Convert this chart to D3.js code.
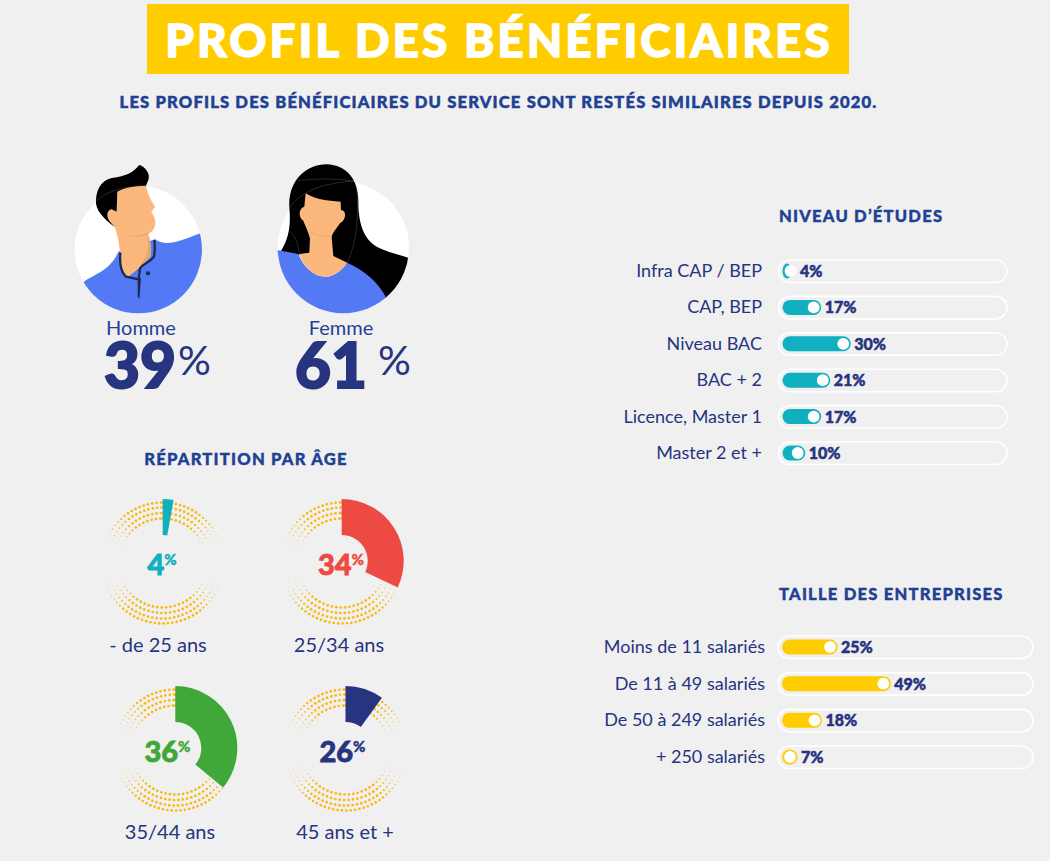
<!DOCTYPE html>
<html lang="fr">
<head>
<meta charset="utf-8">
<script src="https://cdnjs.cloudflare.com/ajax/libs/d3/7.8.5/d3.min.js"></script>
<style>
  html, body { margin: 0; padding: 0; background: #f0f0f0; }
  svg { display: block; }
  text { font-family: Lato, "Open Sans", sans-serif; }
</style>
</head>
<body>
<div id="chart"></div>
<script>
// values
let genreLabels = ['Homme', 'Femme'];
let genreValues = [39, 61];

let ageLabels = ['- de 25 ans', '25/34 ans', '35/44 ans', '45 ans et +'];
let ageValues = [4, 34, 36, 26];
// the wedges in the picture do not follow the printed numbers, so they get their own list
let ageWedges = [2.8, 32, 36, 10];
let ageColors = ['#11b0c0', '#ec4a43', '#40a838', '#27347f'];

let etudesLabels = ['Infra CAP / BEP', 'CAP, BEP', 'Niveau BAC', 'BAC + 2', 'Licence, Master 1', 'Master 2 et +'];
let etudesValues = [4, 17, 30, 21, 17, 10];

let tailleLabels = ['Moins de 11 salariés', 'De 11 à 49 salariés', 'De 50 à 249 salariés', '+ 250 salariés'];
let tailleValues = [25, 49, 18, 7];

const navy = '#27347f';
const blue = '#1f4193';
const yellow = '#ffcc00';
const teal = '#11b0c0';
const skin = '#fcb77c';
const shirt = '#5379f5';

let svg = d3.select('#chart').append('svg')
    .attr('width', 1050)
    .attr('height', 861);

svg.append('rect').attr('width', 1050).attr('height', 861).attr('fill', '#f0f0f0');

// title block
svg.append('rect')
    .attr('x', 147).attr('y', 4)
    .attr('width', 702).attr('height', 70)
    .attr('fill', yellow);

svg.append('text')
    .attr('x', 499).attr('y', 57)
    .attr('text-anchor', 'middle')
    .attr('font-size', 46)
    .attr('font-weight', 900)
    .attr('letter-spacing', 2.9)
    .attr('fill', '#fff')
    .attr('stroke', '#fff')
    .attr('stroke-width', 1.3)
    .text('PROFIL DES BÉNÉFICIAIRES');

svg.append('text')
    .attr('x', 498.5).attr('y', 108)
    .attr('text-anchor', 'middle')
    .attr('font-size', 16.6)
    .attr('font-weight', 900)
    .attr('letter-spacing', 1.16)
    .attr('fill', blue)
    .attr('stroke', blue)
    .attr('stroke-width', 0.5)
    .text('LES PROFILS DES BÉNÉFICIAIRES DU SERVICE SONT RESTÉS SIMILAIRES DEPUIS 2020.');

function heading(text, x, y, anchor) {
    svg.append('text')
        .attr('x', x).attr('y', y)
        .attr('text-anchor', anchor)
        .attr('font-size', 16.6)
        .attr('font-weight', 900)
        .attr('letter-spacing', 1.2)
        .attr('fill', blue)
        .attr('stroke', blue)
        .attr('stroke-width', 0.4)
        .text(text);
}

heading('NIVEAU D’ÉTUDES', 779, 222, 'start');
heading('TAILLE DES ENTREPRISES', 779, 600, 'start');
heading('RÉPARTITION PAR ÂGE', 246, 465, 'middle');

// ------------------------------------------------------------------
// portraits, drawn in the 3x coordinates of the crop
let defs = svg.append('defs');

defs.append('clipPath').attr('id', 'manDisc')
    .append('circle').attr('cx', 235).attr('cy', 299).attr('r', 191);

let womanClip = defs.append('clipPath').attr('id', 'womanDisc');
womanClip.append('circle').attr('cx', 850).attr('cy', 293).attr('r', 197);

let womanTop = defs.append('clipPath').attr('id', 'womanHair');
womanTop.append('circle').attr('cx', 850).attr('cy', 293).attr('r', 197);
womanTop.append('rect').attr('x', 640).attr('y', 0).attr('width', 420).attr('height', 290);

let portraits = svg.append('g').attr('transform', 'translate(60,150) scale(0.3333)');

// man
portraits.append('circle').attr('cx', 235).attr('cy', 299).attr('r', 191).attr('fill', '#fff');
portraits.append('path')
    .attr('clip-path', 'url(#manDisc)')
    .attr('fill', shirt)
    .attr('d', 'M68,398 C100,372 150,365 175,305 L285,268 C320,292 360,272 425,248 L440,500 L50,500 Z');
portraits.append('path')
    .attr('fill', skin)
    .attr('d', 'M172,125 C195,112 225,108 258,107 C262,130 272,150 285,170 L274,186 C288,205 290,225 279,240 L265,252 C275,280 275,310 270,322 C250,345 225,365 205,380 C190,372 182,350 180,310 C178,280 172,255 165,232 L150,215 C138,200 140,180 155,178 L170,185 Z');
portraits.append('path')
    .attr('fill', '#e2a873')
    .attr('d', 'M198,254 C225,260 255,256 279,240 L265,252 C245,262 220,262 198,254 Z M262,254 C274,280 276,305 270,322 C258,336 248,340 240,346 C258,325 270,295 262,254 Z');
portraits.append('path')
    .attr('fill', '#000')
    .attr('d', 'M108,150 C110,110 130,85 170,82 C210,75 225,60 238,45 C255,50 272,70 265,90 L258,107 C225,108 195,112 172,125 L170,185 L155,178 C140,180 138,200 150,215 L165,232 C130,205 105,180 108,150 Z');
portraits.append('path')
    .attr('fill', 'none').attr('stroke', '#f0f0f0').attr('stroke-width', 1).attr('opacity', 0.5)
    .attr('d', 'M110,152 C140,125 180,112 250,106');
portraits.append('path')
    .attr('fill', 'none').attr('stroke', '#1c2a52').attr('stroke-width', 7)
    .attr('d', 'M181,308 C178,345 183,368 198,380 L236,388 M283,270 C285,290 285,305 282,320 C270,338 250,340 240,355 L236,388');
portraits.append('path')
    .attr('fill', '#1c2a52')
    .attr('d', 'M233,385 L243,385 L238,447 L233,440 Z');
portraits.append('circle').attr('cx', 264).attr('cy', 370).attr('r', 6.5).attr('fill', '#1c2a52');

// woman
portraits.append('circle').attr('cx', 850).attr('cy', 293).attr('r', 197).attr('fill', '#fff');
portraits.append('path')
    .attr('clip-path', 'url(#womanHair)')
    .attr('fill', '#000')
    .attr('d', 'M662,305 C690,260 692,220 688,170 C685,90 740,43 800,43 C860,45 895,90 895,150 C895,220 910,265 950,290 C980,305 1020,315 1050,325 L1050,500 L975,445 L860,345 L720,315 Z');
portraits.append('path')
    .attr('fill', 'none').attr('stroke', '#f0f0f0').attr('stroke-width', 1).attr('opacity', 0.5)
    .attr('d', 'M688,175 C710,140 760,100 885,93 M712,92 C770,85 840,85 888,95 C900,190 890,280 862,338 M690,245 C710,265 715,285 718,312');
portraits.append('path')
    .attr('clip-path', 'url(#womanDisc)')
    .attr('fill', shirt)
    .attr('d', 'M640,298 L715,312 C730,350 760,380 797,380 C825,380 850,355 862,338 C910,360 955,395 978,442 L978,500 L640,500 Z');
portraits.append('path')
    .attr('fill', skin)
    .attr('d', 'M737,130 C770,150 800,152 842,155 L843,180 C860,180 860,210 840,220 C830,235 820,245 815,260 L820,318 L862,338 C850,355 825,380 797,380 C760,380 730,350 718,312 L748,308 L750,265 C745,245 735,225 730,212 C715,205 715,175 733,170 Z');
portraits.append('path')
    .attr('fill', 'none').attr('stroke', '#d9a06f').attr('stroke-width', 2)
    .attr('d', 'M752,246 C770,258 795,262 815,255');

// gender labels and figures
let genreX = d3.scalePoint().domain(genreLabels).range([141, 341]);
let genreNumberX = d3.scalePoint().domain(genreLabels).range([176, 367]);
let genrePctX = d3.scalePoint().domain(genreLabels).range([178, 378]);

genreLabels.forEach(function(label, i) {
    svg.append('text')
        .attr('x', genreX(label)).attr('y', 335)
        .attr('text-anchor', 'middle')
        .attr('font-size', 20)
        .attr('fill', blue)
        .text(label);

    svg.append('text')
        .attr('x', genreNumberX(label)).attr('y', 388)
        .attr('text-anchor', 'end')
        .attr('font-size', 62)
        .attr('font-weight', 900)
        .attr('fill', navy)
        .attr('stroke', navy)
        .attr('stroke-width', 2)
        .text(genreValues[i]);

    svg.append('text')
        .attr('x', genrePctX(label)).attr('y', 375)
        .attr('font-size', 41)
        .attr('font-weight', 400)
        .attr('fill', navy)
        .text('%');
});

// ------------------------------------------------------------------
// age rings
let ageX = [162.7, 341.7, 175.3, 345.5];
let ageY = [561, 561, 748, 748];
let ageFigureX = [162, 341, 167.5, 342.5];
let ageLabelX = [158, 339, 170, 345];
let wedgeAngle = d3.scaleLinear().domain([0, 100]).range([0, 2 * Math.PI]);
let ringRadii = [44.5, 50, 55.5, 60.5];

let wedge = d3.arc().innerRadius(26).outerRadius(62).startAngle(0);

// dotted rings, fading out towards the horizontal
function drawDots(g) {
    ringRadii.forEach(function(r) {
        let step = 4.4 / r;
        d3.range(0, Math.PI * 2, step).forEach(function(a) {
            let side = Math.abs(Math.sin(a));
            if (side > 0.97) return;
            let size = side < 0.6 ? 1.35 : 1.35 - (side - 0.6) * 3.1;
            g.append('circle')
                .attr('cx', r * Math.sin(a))
                .attr('cy', -r * Math.cos(a))
                .attr('r', Math.max(size, 0.2))
                .attr('fill', '#fbb90e');
        });
    });
}

ageLabels.forEach(function(label, i) {
    let g = svg.append('g').attr('transform', `translate(${ageX[i]}, ${ageY[i]})`);

    drawDots(g.append('g').attr('transform', 'translate(0, 2)'));

    g.append('path')
        .attr('fill', ageColors[i])
        .attr('d', wedge({ endAngle: wedgeAngle(ageWedges[i]) }));

    let figure = svg.append('text')
        .attr('x', ageFigureX[i]).attr('y', ageY[i] + 14)
        .attr('text-anchor', 'middle')
        .attr('fill', ageColors[i])
        .attr('stroke', ageColors[i])
        .attr('stroke-width', 0.8)
        .attr('font-weight', 900);

    figure.append('tspan').attr('font-size', 29).text(ageValues[i]);
    figure.append('tspan').attr('font-size', 15).attr('stroke-width', 0.4).attr('dy', -10).text('%');

    svg.append('text')
        .attr('x', ageLabelX[i]).attr('y', ageY[i] + 91)
        .attr('text-anchor', 'middle')
        .attr('font-size', 20)
        .attr('fill', navy)
        .text(label);
});

// ------------------------------------------------------------------
// progress style bars
function drawBars(labels, values, color, xScale, yScale, trackEnd, labelEnd) {
    labels.forEach(function(label, i) {
        let y = yScale(label);
        let end = xScale(values[i]);
        let start = xScale(0);
        let knob = Math.max(end - 7.5, start + 8);

        svg.append('text')
            .attr('x', labelEnd).attr('y', y + 6)
            .attr('text-anchor', 'end')
            .attr('font-size', 18)
            .attr('fill', navy)
            .text(label);

        svg.append('rect')
            .attr('x', start - 4).attr('y', y - 11)
            .attr('width', trackEnd - start + 4).attr('height', 22.5)
            .attr('rx', 11.2)
            .attr('fill', 'none')
            .attr('stroke', '#fff')
            .attr('stroke-width', 1.6);

        svg.append('rect')
            .attr('x', start).attr('y', y - 7.5)
            .attr('width', end - start).attr('height', 15)
            .attr('rx', Math.min(7.5, (end - start) / 2)).attr('ry', 7.5)
            .attr('fill', color);

        svg.append('circle')
            .attr('cx', knob).attr('cy', y)
            .attr('r', 5.9)
            .attr('fill', '#fff');

        svg.append('text')
            .attr('x', Math.max(end, knob + 6) + 3.5).attr('y', y + 6)
            .attr('font-size', 16)
            .attr('font-weight', 900)
            .attr('fill', navy)
            .attr('stroke', navy)
            .attr('stroke-width', 0.5)
            .text(values[i] + '%');
    });
}

let etudesXScale = d3.scaleLinear().domain([0, 100]).range([782.5, 1010]);
let etudesYScale = d3.scalePoint().domain(etudesLabels).range([271, 453]);
drawBars(etudesLabels, etudesValues, teal, etudesXScale, etudesYScale, 1007, 762);

let tailleXScale = d3.scaleLinear().domain([0, 100]).range([782, 1004]);
let tailleYScale = d3.scalePoint().domain(tailleLabels).range([647, 757]);
drawBars(tailleLabels, tailleValues, yellow, tailleXScale, tailleYScale, 1033, 765);
</script>
</body>
</html>
